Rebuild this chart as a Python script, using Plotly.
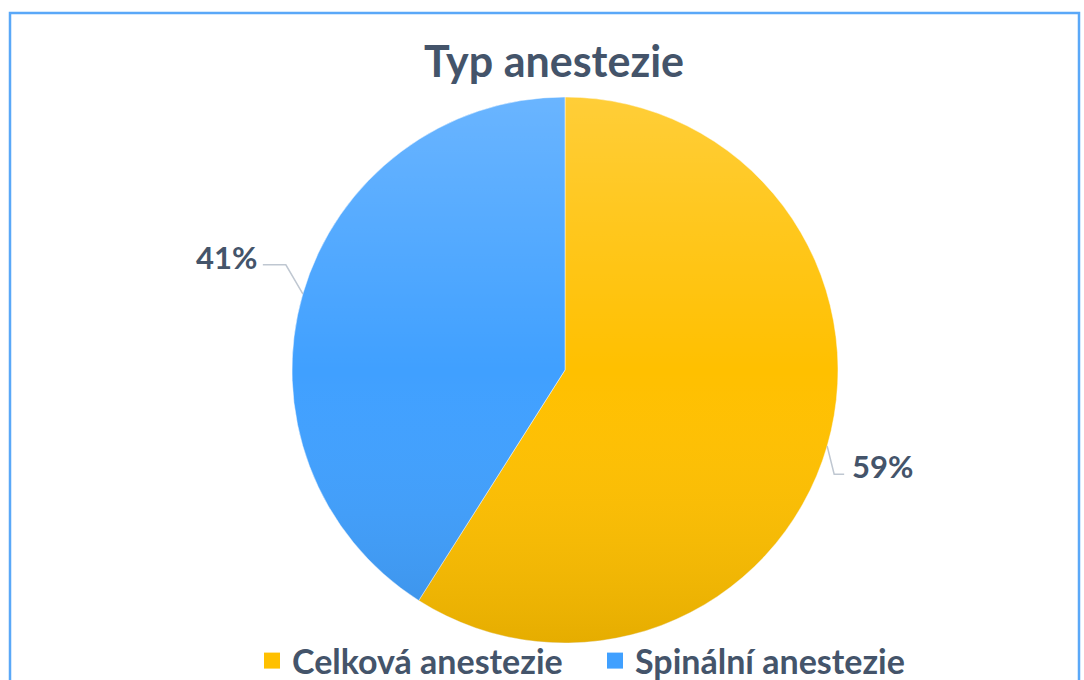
import math, base64
import plotly.graph_objects as go

# ---- data ----
categories = ["Celková anestezie", "Spinální anestezie"]
values = [59, 41]
colors = ["#FFC000", "#40A0FF"]
title_text = "Typ anestezie"

# ---- layout geometry (pixels) ----
W, H = 1084, 680
cx, cy, R = 565, 370, 273
text_color = "#44546A"
font_family = "Lato, 'Open Sans', sans-serif"

dom_x = [(cx - R) / W, (cx + R) / W]
dom_y = [(H - (cy + R)) / H, (H - (cy - R)) / H]

fig = go.Figure()
fig.add_trace(go.Pie(
    labels=categories, values=values, sort=False, direction="clockwise", rotation=0,
    marker=dict(colors=colors, line=dict(color="rgba(255,255,255,0.6)", width=0.8)),
    textinfo="none", hoverinfo="label+percent", showlegend=False,
    domain=dict(x=dom_x, y=dom_y),
))
# legend entries (larger square swatches)
for cat, col in zip(categories, colors):
    fig.add_trace(go.Scatter(x=[None], y=[None], mode="markers", name=cat,
                             marker=dict(symbol="square", size=16, color=col),
                             showlegend=True, hoverinfo="skip"))

def px2paper(x, y):
    return x / W, (H - y) / H

shapes = []
annotations = []
total = sum(values)
cum = 0
for cat, v in zip(categories, values):
    mid = (cum + v / 2) / total * 2 * math.pi
    cum += v
    ex, ey = cx + R * math.sin(mid), cy - R * math.cos(mid)
    if math.sin(mid) >= 0:
        bx, by = ex + 7, ey + 28
        tx, ty = bx + 10, by
        ax_, anchor = tx + 6, "left"
    else:
        bx, by = ex - 17, ey - 29
        tx, ty = bx - 23, by
        ax_, anchor = tx - 4, "right"
    pts = [px2paper(ex, ey), px2paper(bx, by), px2paper(tx, ty)]
    path = "M {} {} L {} {} L {} {}".format(*[c for p in pts for c in p])
    shapes.append(dict(type="path", xref="paper", yref="paper", path=path,
                       line=dict(color="#BFC7D1", width=1.5)))
    pct = round(v / total * 100)
    lx, ly = px2paper(ax_, ty - 8)
    annotations.append(dict(text=f"<b>{pct}%</b>", xref="paper", yref="paper",
                            x=lx, y=ly, xanchor=anchor, yanchor="middle", showarrow=False,
                            font=dict(family=font_family, size=31, color=text_color)))

# border frame
p = [px2paper(10, 680), px2paper(10, 13), px2paper(1079, 13), px2paper(1079, 680)]
shapes.append(dict(type="path", xref="paper", yref="paper",
                   path="M {} {} L {} {} L {} {} L {} {}".format(*[c for q in p for c in q]),
                   line=dict(color="#5AA8F8", width=2.5)))

# gradient overlay to mimic shaded fill
svg = ('<svg xmlns="http://www.w3.org/2000/svg" viewBox="0 0 100 100" preserveAspectRatio="none">'
       '<defs><linearGradient id="g" x1="0" y1="0" x2="0" y2="1">'
       '<stop offset="0" stop-color="#ffffff" stop-opacity="0.22"/>'
       '<stop offset="0.5" stop-color="#ffffff" stop-opacity="0"/>'
       '<stop offset="1" stop-color="#000000" stop-opacity="0.10"/>'
       '</linearGradient></defs><circle cx="50" cy="50" r="50" fill="url(#g)"/></svg>')
src = "data:image/svg+xml;base64," + base64.b64encode(svg.encode()).decode()

fig.update_layout(
    width=W, height=H,
    margin=dict(l=0, r=0, t=0, b=0, autoexpand=False),
    paper_bgcolor="white", plot_bgcolor="rgba(0,0,0,0)",
    xaxis=dict(visible=False), yaxis=dict(visible=False),
    title=dict(text=f"<b>{title_text}</b>", x=554 / W, xanchor="center",
               y=(H - 62) / H, yanchor="middle",
               font=dict(family=font_family, size=43, color=text_color)),
    showlegend=True,
    legend=dict(orientation="h", x=252 / W, xanchor="left", y=(H - 661) / H, yanchor="middle",
                font=dict(family=font_family, size=34, color=text_color, weight="bold"),
                itemsizing="trace", itemclick=False, itemdoubleclick=False,
                entrywidth=298, entrywidthmode="pixels",
                traceorder="normal", bgcolor="rgba(0,0,0,0)"),
    shapes=shapes, annotations=annotations,
    images=[dict(source=src, xref="paper", yref="paper", x=dom_x[0], y=dom_y[1],
                 sizex=dom_x[1] - dom_x[0], sizey=dom_y[1] - dom_y[0],
                 sizing="stretch", xanchor="left", yanchor="top", layer="above")],
)

fig.write_html("out.html", config={"displayModeBar": False},
               post_script="document.body.style.margin='0';")
